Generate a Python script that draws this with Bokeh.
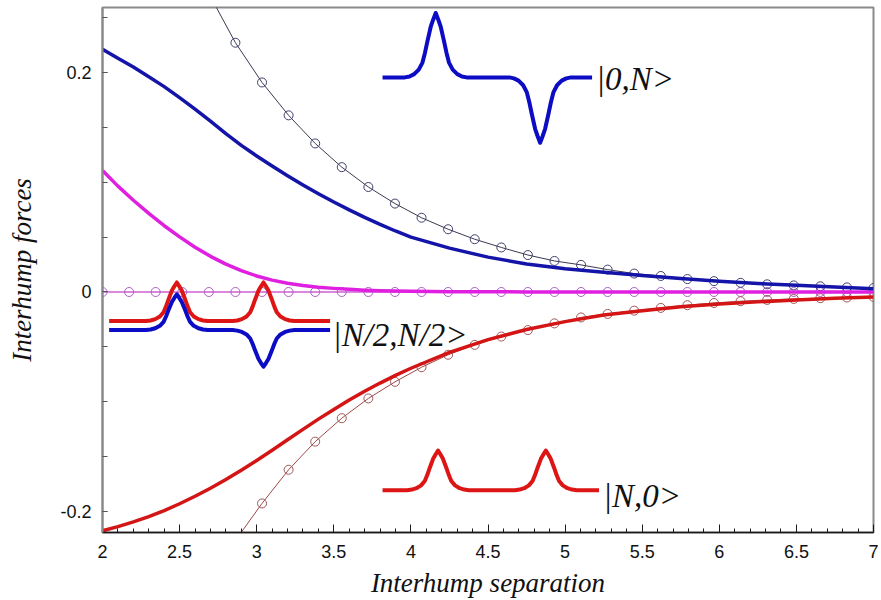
import numpy as np
from bokeh.plotting import figure
from bokeh.models import Range1d, FixedTicker
from bokeh.core.properties import value
from bokeh.embed import file_html
from bokeh.resources import INLINE

# ---------------- data ----------------
# thick curves
x_thick = [2.0, 2.1, 2.2, 2.3, 2.4, 2.5, 2.6, 2.7, 2.8, 2.9, 3.0, 3.1, 3.2,
           3.3, 3.4, 3.5, 3.6, 3.7, 3.8, 3.9, 4.0, 4.25, 4.5, 4.75, 5.0,
           5.25, 5.5, 5.75, 6.0, 6.25, 6.5, 6.75, 7.0]
force_0N = [0.2212, 0.2131, 0.2050, 0.1962, 0.1872, 0.1772, 0.1667, 0.1557,
            0.1443, 0.1336, 0.1240, 0.1148, 0.1060, 0.0976, 0.0896, 0.0820,
            0.0748, 0.0680, 0.0616, 0.0556, 0.0500, 0.0400, 0.0318, 0.0255,
            0.0212, 0.0180, 0.0150, 0.0122, 0.0098, 0.0078, 0.0061, 0.0045,
            0.0030]
force_N0 = [-0.2176, -0.2138, -0.2095, -0.2047, -0.1992, -0.1930, -0.1862,
            -0.1788, -0.1709, -0.1624, -0.1535, -0.1442, -0.1347, -0.1252,
            -0.1159, -0.1070, -0.0985, -0.0905, -0.0830, -0.0760, -0.0695,
            -0.0551, -0.0434, -0.0342, -0.0270, -0.0210, -0.0170, -0.0135,
            -0.0110, -0.0090, -0.0073, -0.0058, -0.0045]
force_half = [0.1107, 0.0965, 0.0836, 0.0716, 0.0604, 0.0502, 0.0408, 0.0325,
              0.0254, 0.0194, 0.0146, 0.0108, 0.0080, 0.0059, 0.0044, 0.0033,
              0.0024, 0.0017, 0.0012, 0.0008, 0.0006, 0.0003, 0.0002, 0.0001,
              0.0, 0.0, 0.0, 0.0, 0.0, 0.0, 0.0, 0.0, 0.0]

# thin curves with circle markers (30 samples from 2 to 7)
x_markers = [round(v, 4) for v in np.linspace(2, 7, 30)]
approx_0N = [0.272, 0.2272, 0.191, 0.161, 0.1354, 0.1138, 0.0957, 0.0806,
             0.0677, 0.0572, 0.0481, 0.0406, 0.0337, 0.0283, 0.0247, 0.0204,
             0.0168, 0.0146, 0.0118, 0.0099, 0.0084, 0.0070, 0.0060, 0.0052,
             0.0042, 0.0036]          # from marker index 4
approx_N0 = [-0.2264, -0.1927, -0.162, -0.1364, -0.115, -0.097, -0.0819,
             -0.0686, -0.0572, -0.0482, -0.0406, -0.0347, -0.0286, -0.0232,
             -0.0200, -0.0170, -0.0145, -0.0120, -0.0100, -0.0084, -0.0072,
             -0.0063, -0.0056, -0.0050, -0.0045]   # from marker index 5
approx_half = [0.0] * 30

# hump profile used in the state pictograms (half profile)
hump_dx = [0.0, 0.016, 0.032, 0.054, 0.07, 0.086, 0.11, 0.14, 0.17, 0.2]
hump_h = [1.0, 0.9, 0.79, 0.56, 0.38, 0.23, 0.12, 0.05, 0.015, 0.0]

# state pictograms: start, end, baseline, hump centres, hump amplitudes
st_0N = dict(x0=3.816, x1=5.175, base=0.1956, c=[4.161, 4.838], a=[0.0587, -0.0596])
st_N0 = dict(x0=3.816, x1=5.22, base=-0.1806, c=[4.176, 4.875], a=[0.0361, 0.0361])
st_half_r = dict(x0=2.043, x1=3.476, base=-0.0265, c=[2.482, 3.044], a=[0.0352, 0.0352])
st_half_b = dict(x0=2.043, x1=3.476, base=-0.0347, c=[2.482, 3.044], a=[0.0325, -0.0334])

labels_text = ["|0,N>", "|N/2,N/2>", "|N,0>"]
labels_x = [5.2, 3.492, 5.245]
labels_y = [0.1944, -0.0395, -0.1855]

x_major = [2, 2.5, 3, 3.5, 4, 4.5, 5, 5.5, 6, 6.5, 7]
x_major_labels = ["2", "2.5", "3", "3.5", "4", "4.5", "5", "5.5", "6", "6.5", "7"]
y_major = [-0.2, 0, 0.2]
y_major_labels = ["-0.2", "0", "0.2"]

# ---------------- figure ----------------
p = figure(width=881, height=600, output_backend="svg", toolbar_location=None,
           x_range=Range1d(2, 7), y_range=Range1d(-0.2192, 0.2593),
           min_border_left=102, min_border_right=8, min_border_top=7,
           min_border_bottom=63)
p.background_fill_color = "white"
p.border_fill_color = "white"
p.xgrid.visible = False
p.ygrid.visible = False
p.outline_line_color = "#8a8a8a"
p.outline_line_width = 2

# thin lines with markers
xm_u = x_markers[4:]
xm_l = x_markers[5:]
p.line(x_markers, approx_half, line_color="#d060d0", line_width=1.5)
p.scatter(x_markers, approx_half, marker="circle", size=9, fill_color=None,
          line_color="#a860c8", line_width=1)
p.line(xm_u, approx_0N, line_color="#3a3a50", line_width=1)
p.scatter(xm_u, approx_0N, marker="circle", size=9, fill_color=None,
          line_color="#404070", line_width=1)
p.line(xm_l, approx_N0, line_color="#a04848", line_width=1)
p.scatter(xm_l, approx_N0, marker="circle", size=9, fill_color=None,
          line_color="#a05858", line_width=1)

# thick curves
p.line(x_thick, force_half, line_color="#e020e0", line_width=3.5, line_join="round")
p.line(x_thick, force_0N, line_color="#1414a8", line_width=3.5, line_join="round")
p.line(x_thick, force_N0, line_color="#d41515", line_width=3.5, line_join="round")

# state pictograms
full_dx = [-d for d in reversed(hump_dx[1:])] + hump_dx
full_h = list(reversed(hump_h[1:])) + hump_h


def state_curve(st):
    xs = [st["x0"]]
    ys = [st["base"]]
    for c, a in zip(st["c"], st["a"]):
        for dx, h in zip(full_dx, full_h):
            xs.append(c + dx)
            ys.append(st["base"] + a * h)
    xs.append(st["x1"])
    ys.append(st["base"])
    return xs, ys


for st, col in [(st_0N, "#0c0cc4"), (st_N0, "#dd1515"),
                (st_half_r, "#dd1515"), (st_half_b, "#0c0cc4")]:
    xs, ys = state_curve(st)
    p.line(xs, ys, line_color=col, line_width=4, line_join="round")

p.text(x=labels_x, y=labels_y, text=labels_text,
       text_font=value("Liberation Serif"), text_font_style="italic",
       text_font_size="33px", text_color="#111111",
       text_align="left", text_baseline="alphabetic")

# axes
p.xaxis.ticker = FixedTicker(ticks=x_major,
                             minor_ticks=[round(v, 2) for v in np.arange(2, 7.01, 0.1)])
p.xaxis.major_label_overrides = dict(zip(x_major, x_major_labels))
p.yaxis.ticker = FixedTicker(ticks=y_major,
                             minor_ticks=[round(v, 2) for v in np.arange(-0.2, 0.26, 0.05)])
p.yaxis.major_label_overrides = dict(zip(y_major, y_major_labels))

for ax in (p.xaxis[0], p.yaxis[0]):
    ax.major_tick_out = 0
    ax.minor_tick_out = 0
    ax.major_label_text_font = "Liberation Sans"
    ax.major_label_text_font_size = "18px"
    ax.major_label_text_color = "#111111"
    ax.axis_label_text_font = "Liberation Serif"
    ax.axis_label_text_font_style = "italic"
    ax.axis_label_text_font_size = "27px"
    ax.axis_label_text_color = "#111111"

p.xaxis.axis_label = "Interhump separation"
p.yaxis.axis_label = "Interhump forces"
p.xaxis.major_tick_in = 8
p.xaxis.minor_tick_in = 4
p.xaxis.axis_line_color = "#1a1a1a"
p.xaxis.axis_line_width = 1.5
p.xaxis.major_tick_line_color = "#1a1a1a"
p.xaxis.minor_tick_line_color = "#1a1a1a"
p.xaxis.major_label_standoff = 12
p.xaxis.axis_label_standoff = 7

p.yaxis.major_tick_in = 5
p.yaxis.minor_tick_in = 5
p.yaxis.axis_line_color = "#8a8a8a"
p.yaxis.axis_line_width = 2
p.yaxis.major_tick_line_color = "#555555"
p.yaxis.minor_tick_line_color = "#555555"
p.yaxis.major_label_standoff = 11
p.yaxis.axis_label_standoff = 20

open("out.html", "w").write(file_html(p, INLINE))
